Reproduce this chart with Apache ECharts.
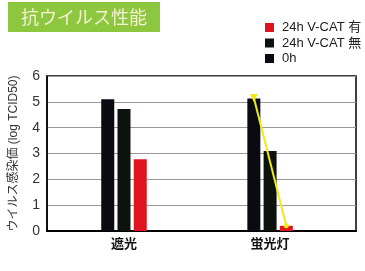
<!DOCTYPE html>
<html>
<head>
<meta charset="utf-8">
<script src="https://cdn.jsdelivr.net/npm/echarts@6/dist/echarts.min.js"></script>
<style>
html,body{margin:0;padding:0;background:#fff;}
#chart{width:365px;height:271px;}
</style>
</head>
<body>
<div id="chart"></div>
<script>
/*数据*/
var groupPos=[1,2];//两组的位置
var groupNames=['遮光','蛍光灯'];
var seriesNames=['0h','24h V-CAT 無','24h V-CAT 有'];
var val_0h=[5.1,5.13];
var val_nashi=[4.72,3.1];
var val_ari=[2.78,0.2];
var trendX=[1.889,2.111];//蛍光灯组 0h与有 的位置
var trendY=[5.15,0.2];
var yTicks=[0,1,2,3,4,5,6];

var FONT='"Liberation Sans","Noto Sans CJK JP",sans-serif';
var colors=['#0a0a12','#0c120c','#e0141e'];

var toPairs=function(xs,ys){
    var out=[];
    for(var i=0;i<xs.length;i++){
        out.push([xs[i],ys[i]]);
    }
    return out;
};

var chart=echarts.init(document.getElementById('chart'));
var barSeries=[val_0h,val_nashi,val_ari].map(function(v,i){
    return {
        name:seriesNames[i],
        type:'bar',
        barWidth:13,
        barGap:'25%',
        itemStyle:{color:colors[i]},
        data:toPairs(groupPos,v),
        z:2
    };
});
barSeries.push({
    name:'trend',
    type:'line',
    data:toPairs(trendX,trendY),
    lineStyle:{color:'#f2e81c',width:2},
    itemStyle:{color:'#f2e81c'},
    symbol:'circle',
    symbolSize:5,
    z:5
});
barSeries[3].data[0]={value:barSeries[3].data[0],symbol:'triangle',symbolRotate:180,symbolSize:8};

chart.setOption({
    animation:false,
    textStyle:{fontFamily:FONT},
    title:{
        text:'抗ウイルス性能',
        left:8,
        top:2,
        padding:[6,13],
        backgroundColor:'#8dc63f',
        textStyle:{color:'#f4f1d2',fontSize:18,fontWeight:'normal',fontFamily:'"Noto Sans CJK JP",sans-serif'}
    },
    legend:{
        orient:'vertical',
        left:265,
        top:21,
        padding:0,
        itemWidth:9,
        itemHeight:9,
        itemGap:2.5,
        icon:'rect',
        data:['24h V-CAT 有','24h V-CAT 無','0h'],
        textStyle:{fontSize:13,color:'#222',fontFamily:FONT,padding:[0,0,0,3]}
    },
    grid:{
        left:43,right:9,top:76,bottom:40,
        show:true,
        borderColor:'#000',
        borderWidth:1.5
    },
    xAxis:{
        type:'value',
        min:0.473,
        max:2.588,
        splitLine:{show:false},
        axisLine:{show:true,lineStyle:{color:'#000',width:2}},
        axisTick:{show:false},
        axisLabel:{
            customValues:groupPos,
            formatter:function(v){
                var i=groupPos.indexOf(v);
                return i>=0?groupNames[i]:'';
            },
            color:'#111',
            fontSize:13,
            fontWeight:'bold',
            margin:6,
            fontFamily:'"Noto Sans CJK JP",sans-serif'
        }
    },
    yAxis:{
        type:'value',
        min:0,
        max:6,
        interval:1,
        name:'ウイルス感染価 (log TCID50)',
        nameLocation:'middle',
        nameGap:27,
        nameTextStyle:{fontSize:12,color:'#333',fontFamily:FONT},
        axisLine:{show:true,lineStyle:{color:'#000',width:1.5}},
        axisTick:{show:false},
        axisLabel:{
            color:'#333',
            fontSize:14,
            margin:7,
            customValues:yTicks
        },
        splitLine:{lineStyle:{color:'#999',width:1}}
    },
    series:barSeries
});
</script>
</body>
</html>
